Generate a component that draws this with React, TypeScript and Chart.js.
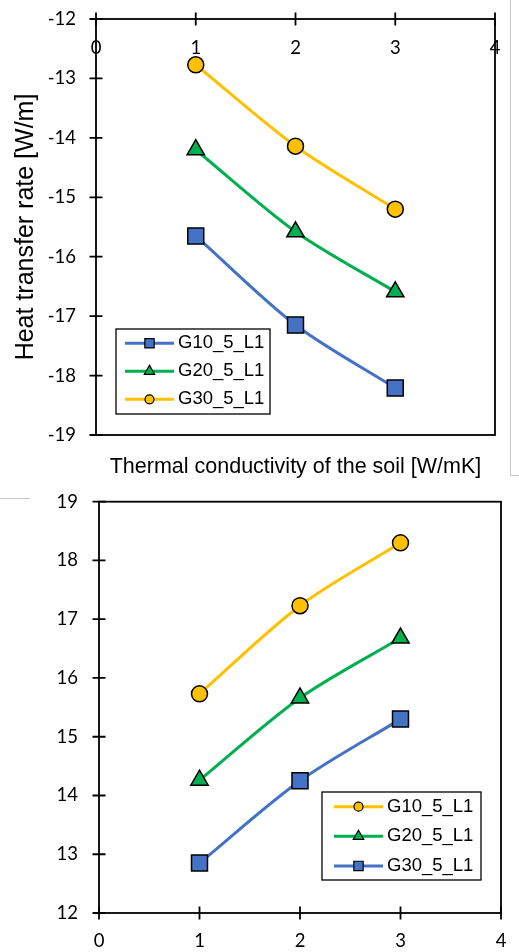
import React, { useEffect, useRef } from 'react';
import { Chart, registerables } from 'chart.js';
import { drawPoint } from 'chart.js/helpers';

Chart.register(...registerables);

// ---------- data ----------
const xValues = [1, 2, 3];
const seriesNames = ['G10_5_L1', 'G20_5_L1', 'G30_5_L1'];

const topG10 = [-15.65, -17.15, -18.21];
const topG20 = [-14.2, -15.58, -16.59];
const topG30 = [-12.77, -14.14, -15.2];

const bottomG10 = [15.73, 17.23, 18.3];
const bottomG20 = [14.26, 15.66, 16.68];
const bottomG30 = [12.85, 14.25, 15.3];

const xMin = 0;
const xMax = 4;
const topYMin = -19;
const topYMax = -12;
const bottomYMin = 12;
const bottomYMax = 19;

const topYTitle = 'Heat transfer rate [W/m]';
const topXTitle = 'Thermal conductivity of the soil [W/mK]';

// ---------- styles ----------
const BLUE = '#4472C4';
const GREEN = '#00B050';
const YELLOW = '#FFC000';
const tickFont = () => ({ family: 'Lato', size: 18.5 });

const styleFor = (color: string, pointStyle: string) => {
  const radius = pointStyle === 'circle' ? 8 : pointStyle === 'triangle' ? 10 : 11.3;
  return {
    borderColor: color,
    backgroundColor: color,
    borderWidth: 3,
    pointStyle,
    pointRadius: radius,
    pointHoverRadius: radius,
    pointBackgroundColor: color,
    pointBorderColor: '#000',
    pointBorderWidth: 1.5,
    tension: 0.3,
    fill: false,
  };
};

const makeDataset = (label: string, values: number[], color: string, pointStyle: string) => ({
  label,
  data: xValues.map((x, i) => ({ x, y: values[i] })),
  ...styleFor(color, pointStyle),
});

const noPad = (s: any) => {
  s.paddingTop = 0;
  s.paddingBottom = 0;
  s.paddingLeft = 0;
  s.paddingRight = 0;
};

// ---------- plugins ----------
const framePlugin = {
  id: 'excelFrame',
  beforeDatasetsDraw(chart: any, _args: any, opts: any) {
    const { ctx, chartArea: a } = chart;
    const xs = chart.scales.x;
    const ys = chart.scales.y;
    const L = opts.tickLength ?? 6.5;
    ctx.save();
    ctx.strokeStyle = '#000';
    ctx.lineWidth = opts.lineWidth ?? 1.8;
    ctx.strokeRect(a.left, a.top, a.right - a.left, a.bottom - a.top);
    ctx.beginPath();
    const axisY = opts.xAxisTop ? a.top : a.bottom;
    for (const t of xs.ticks) {
      const px = xs.getPixelForValue(t.value);
      ctx.moveTo(px, axisY - L);
      ctx.lineTo(px, axisY + L);
    }
    for (const t of ys.ticks) {
      const py = ys.getPixelForValue(t.value);
      ctx.moveTo(a.left - L, py);
      ctx.lineTo(a.left + L, py);
    }
    ctx.stroke();
    ctx.restore();
  },
};

const legendPlugin = {
  id: 'excelLegend',
  afterDatasetsDraw(chart: any, _args: any, o: any) {
    const { ctx } = chart;
    ctx.save();
    ctx.fillStyle = '#fff';
    ctx.fillRect(o.left, o.top, o.width, o.height);
    ctx.strokeStyle = '#000';
    ctx.lineWidth = 1.3;
    ctx.strokeRect(o.left, o.top, o.width, o.height);
    chart.data.datasets.forEach((ds: any, i: number) => {
      const y = o.firstRow + i * o.rowGap;
      ctx.strokeStyle = ds.borderColor;
      ctx.lineWidth = ds.borderWidth;
      ctx.beginPath();
      ctx.moveTo(o.lineStart, y);
      ctx.lineTo(o.lineEnd, y);
      ctx.stroke();
      ctx.fillStyle = ds.pointBackgroundColor;
      ctx.strokeStyle = '#000';
      ctx.lineWidth = 1.2;
      drawPoint(
        ctx,
        { pointStyle: ds.pointStyle, radius: o.markerRadius[ds.pointStyle], rotation: 0, borderWidth: 1.2 } as any,
        (o.lineStart + o.lineEnd) / 2,
        y
      );
      ctx.fillStyle = '#000';
      ctx.font = o.font;
      ctx.textBaseline = 'middle';
      ctx.textAlign = 'left';
      ctx.fillText(ds.label, o.textStart, y);
    });
    ctx.restore();
  },
};

const legendMarkerRadius = { circle: 4.5, triangle: 6, rect: 6.6 };

// ---------- charts ----------
function TopChart() {
  const ref = useRef<HTMLCanvasElement | null>(null);
  useEffect(() => {
    if (!ref.current) return;
    const chart = new Chart(ref.current, {
      type: 'line',
      data: {
        datasets: [
          makeDataset(seriesNames[0], topG10, BLUE, 'rect'),
          makeDataset(seriesNames[1], topG20, GREEN, 'triangle'),
          makeDataset(seriesNames[2], topG30, YELLOW, 'circle'),
        ],
      },
      options: {
        animation: false,
        responsive: false,
        devicePixelRatio: 1,
        layout: { padding: { left: 0, right: 24, top: 0, bottom: 0 } },
        plugins: {
          legend: { display: false },
          tooltip: { enabled: false },
          excelFrame: { xAxisTop: true, tickLength: 6.5, lineWidth: 1.8 },
          excelLegend: {
            left: 116, top: 329, width: 154, height: 85,
            firstRow: 343.3, rowGap: 28,
            lineStart: 125, lineEnd: 174, textStart: 178,
            font: '18.5px "Liberation Sans"',
            markerRadius: legendMarkerRadius,
          },
        } as any,
        scales: {
          x: {
            type: 'linear',
            position: 'top',
            min: xMin,
            max: xMax,
            ticks: { stepSize: 1, mirror: true, padding: 18, color: '#000', font: tickFont() },
            grid: { display: false, drawTicks: false },
            border: { display: false },
            afterFit: (s: any) => { s.height = 19; noPad(s); },
          },
          x2: {
            type: 'linear',
            position: 'bottom',
            min: xMin,
            max: xMax,
            ticks: { display: false },
            grid: { display: false, drawTicks: false },
            border: { display: false },
            title: {
              display: true,
              text: topXTitle,
              color: '#000',
              font: { family: 'Liberation Sans', size: 21.5 },
              padding: { top: 0, bottom: 0 },
            },
            afterFit: (s: any) => { s.height = 45; noPad(s); },
          },
          y: {
            type: 'linear',
            min: topYMin,
            max: topYMax,
            ticks: { stepSize: 1, padding: 20, color: '#000', font: tickFont() },
            grid: { display: false, drawTicks: false },
            border: { display: false },
            title: {
              display: true,
              text: topYTitle,
              color: '#000',
              font: { family: 'Liberation Sans', size: 25 },
              padding: { top: 11.5, bottom: 0 },
            },
            afterFit: (s: any) => { s.width = 96; noPad(s); },
          },
        },
      } as any,
      plugins: [framePlugin, legendPlugin],
    });
    return () => chart.destroy();
  }, []);
  return <canvas ref={ref} width={519} height={480} style={{ display: 'block', position: 'absolute', left: 0, top: 0 }} />;
}

function BottomChart() {
  const ref = useRef<HTMLCanvasElement | null>(null);
  useEffect(() => {
    if (!ref.current) return;
    const chart = new Chart(ref.current, {
      type: 'line',
      data: {
        datasets: [
          makeDataset(seriesNames[0], bottomG10, YELLOW, 'circle'),
          makeDataset(seriesNames[1], bottomG20, GREEN, 'triangle'),
          makeDataset(seriesNames[2], bottomG30, BLUE, 'rect'),
        ],
      },
      options: {
        animation: false,
        responsive: false,
        devicePixelRatio: 1,
        layout: { padding: { left: 0, right: 18, top: 21.7, bottom: 0 } },
        plugins: {
          legend: { display: false },
          tooltip: { enabled: false },
          excelFrame: { xAxisTop: false, tickLength: 6.5, lineWidth: 1.8 },
          excelLegend: {
            left: 322, top: 312, width: 159, height: 88,
            firstRow: 326.7, rowGap: 29.6,
            lineStart: 334, lineEnd: 383, textStart: 387,
            font: '18.5px "Liberation Sans"',
            markerRadius: legendMarkerRadius,
          },
        } as any,
        scales: {
          x: {
            type: 'linear',
            position: 'bottom',
            min: xMin,
            max: xMax,
            ticks: { stepSize: 1, padding: 16.5, color: '#000', font: tickFont() },
            grid: { display: false, drawTicks: false },
            border: { display: false },
            afterFit: (s: any) => { s.height = 39; noPad(s); },
          },
          y: {
            type: 'linear',
            min: bottomYMin,
            max: bottomYMax,
            ticks: { stepSize: 1, padding: 21, color: '#000', font: tickFont() },
            grid: { display: false, drawTicks: false },
            border: { display: false },
            afterFit: (s: any) => { s.width = 99; noPad(s); },
          },
        },
      } as any,
      plugins: [framePlugin, legendPlugin],
    });
    return () => chart.destroy();
  }, []);
  return <canvas ref={ref} width={519} height={472} style={{ display: 'block', position: 'absolute', left: 0, top: 480 }} />;
}

export default function App() {
  return (
    <div style={{ position: 'absolute', left: 0, top: 0, width: 519, height: 952, background: '#fff', overflow: 'hidden' }}>
      <TopChart />
      <BottomChart />
      <div style={{ position: 'absolute', left: 510, top: 0, width: 1, height: 475, background: '#c8c8c8' }} />
      <div style={{ position: 'absolute', left: 510, top: 475, width: 9, height: 1, background: '#c8c8c8' }} />
      <div style={{ position: 'absolute', left: 0, top: 498, width: 30, height: 1, background: '#c8c8c8' }} />
    </div>
  );
}
